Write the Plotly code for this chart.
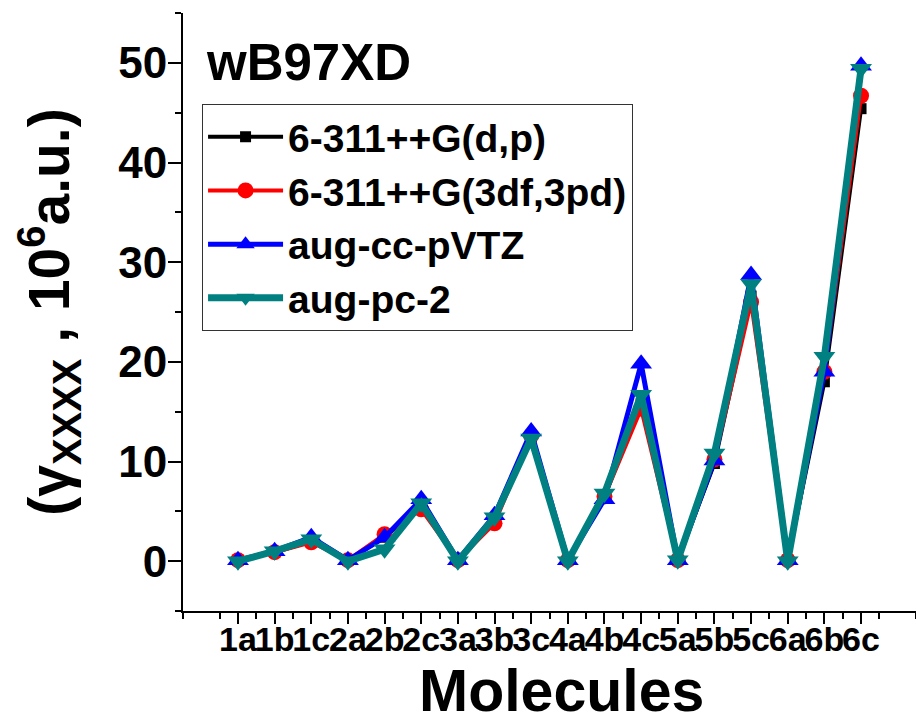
import plotly.graph_objects as go

molecules = ['1a', '1b', '1c', '2a', '2b', '2c', '3a', '3b', '3c',
             '4a', '4b', '4c', '5a', '5b', '5c', '6a', '6b', '6c']
g_6311_dp = [0.1, 0.9, 2.0, 0.1, 2.4, 5.5, 0.1, 4.2, 12.5, 0.1, 6.5, 15.8, 0.1, 9.8, 26.6, 0.1, 18.0, 45.4]
g_6311_3df = [0.1, 0.9, 1.9, 0.1, 2.7, 5.2, 0.1, 3.8, 12.6, 0.1, 6.5, 15.3, 0.1, 10.2, 26.0, 0.1, 19.0, 46.7]
g_augccpvtz = [0.1, 1.0, 2.4, 0.1, 2.4, 6.2, 0.1, 4.6, 13.0, 0.1, 6.2, 19.8, 0.1, 10.1, 28.7, 0.1, 19.0, 49.7]
g_augpc2 = [0.0, 1.0, 2.2, 0.0, 1.2, 5.8, 0.0, 4.4, 12.3, 0.0, 6.8, 16.7, 0.1, 10.8, 27.8, 0.0, 20.5, 49.4]
series_names = ['6-311++G(d,p)', '6-311++G(3df,3pd)', 'aug-cc-pVTZ', 'aug-pc-2']

idx = list(range(len(molecules)))

REG = "Liberation Sans, Arial, sans-serif"

styles = [
    dict(color='black', symbol='square', size=11, lw=4),
    dict(color='red', symbol='circle', size=16, lw=4),
    dict(color='blue', symbol='triangle-up', size=19, lw=5),
    dict(color='#008080', symbol='triangle-down', size=19, lw=7),
]

fig = go.Figure()
for name, vals, st in zip(series_names, [g_6311_dp, g_6311_3df, g_augccpvtz, g_augpc2], styles):
    fig.add_trace(go.Scatter(
        x=idx, y=vals, name=name, mode='lines+markers',
        line=dict(color=st['color'], width=st['lw']),
        marker=dict(color=st['color'], symbol=st['symbol'], size=st['size'],
                    line=dict(width=0)),
    ))

x_range = [-1.5, len(molecules) + 0.5]
tick_common = dict(tickwidth=2, tickcolor='black')

fig.update_layout(
    width=916, height=721,
    margin=dict(l=183, r=0, t=13, b=110),
    plot_bgcolor='white', paper_bgcolor='white',
    showlegend=True,
    legend=dict(
        x=0.026, y=0.848, xanchor='left', yanchor='top',
        bgcolor='white', bordercolor='#333333', borderwidth=1,
        font=dict(family=REG, size=39, color='black', weight='bold'),
        itemwidth=75, tracegroupgap=0,
    ),
    xaxis=dict(
        range=x_range, showgrid=False, zeroline=False,
        showline=True, linecolor='black', linewidth=2,
        tickmode='array', tickvals=idx, ticktext=molecules,
        ticks='outside', ticklen=11, tickangle=0, ticklabelstandoff=-14,
        tickfont=dict(family=REG, size=34, color='black', weight='bold'),
        minor=dict(tick0=-1.5, dtick=1, ticks='outside', ticklen=6, **tick_common),
        **tick_common,
    ),
    xaxis3=dict(
        overlaying='x', side='bottom', anchor='y', range=x_range,
        showgrid=False, zeroline=False, showline=False, showticklabels=False,
        tickmode='array', tickvals=[-1, len(molecules)],
        ticks='outside', ticklen=11, **tick_common,
    ),
    yaxis=dict(
        range=[-5, 55], showgrid=False, zeroline=False,
        showline=True, linecolor='black', linewidth=2,
        tickmode='linear', tick0=0, dtick=10,
        ticks='outside', ticklen=13, ticklabelstandoff=-8,
        tickfont=dict(family=REG, size=44, color='black', weight='bold'),
        minor=dict(tick0=-5, dtick=10, ticks='outside', ticklen=6, **tick_common),
        title=dict(text='(γ<sub>XXXX</sub> , 10<sup>6</sup>a.u.)', standoff=30,
                   font=dict(family=REG, size=57, color='black', weight='bold')),
        **tick_common,
    ),
    xaxis2=dict(
        overlaying='x', side='top', anchor='y', range=x_range,
        showgrid=False, zeroline=False, showline=True, linecolor='black', linewidth=2,
        tickmode='array', tickvals=[-1.5, 2.5, 6.5, 10.5, 14.5, 18.5],
        ticks='inside', ticklen=11, showticklabels=False,
        minor=dict(tickvals=[0.5, 4.5, 8.5, 12.5, 16.5], ticks='inside', ticklen=6, **tick_common),
        **tick_common,
    ),
    yaxis2=dict(
        overlaying='y', side='right', anchor='x', range=[-5, 55],
        showgrid=False, zeroline=False, showline=True, linecolor='black', linewidth=2,
        tickmode='array', tickvals=[7, 19, 31, 43],
        ticks='inside', ticklen=11, showticklabels=False,
        minor=dict(tickvals=[1, 13, 25, 37, 49], ticks='inside', ticklen=6, **tick_common),
        **tick_common,
    ),
    annotations=[
        dict(text='wB97XD', xref='paper', yref='paper', x=0.028, y=0.918,
             xanchor='left', yanchor='middle', showarrow=False,
             font=dict(family=REG, size=51, color='black', weight='bold')),
        dict(text='Molecules', xref='paper', yref='paper', x=0.516, y=-0.134,
             xanchor='center', yanchor='middle', showarrow=False,
             font=dict(family=REG, size=59, color='black', weight='bold')),
    ],
)

fig.write_html("out.html")
